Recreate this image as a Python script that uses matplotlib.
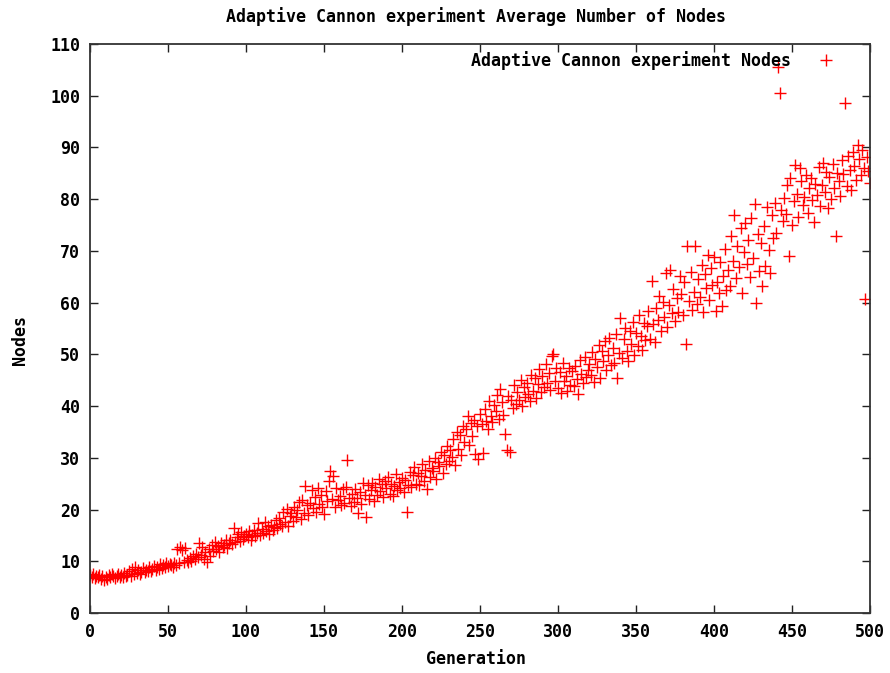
import matplotlib
matplotlib.use("Agg")
import matplotlib.pyplot as plt
import numpy as np

title = "Adaptive Cannon experiment Average Number of Nodes"
series_label = "Adaptive Cannon experiment Nodes"
x_label = "Generation"
y_label = "Nodes"
x_ticks = [0, 50, 100, 150, 200, 250, 300, 350, 400, 450, 500]
y_ticks = [0, 10, 20, 30, 40, 50, 60, 70, 80, 90, 100, 110]

nodes = [
    7.3, 7.0, 7.5, 6.8, 7.2, 6.9, 7.4, 6.5, 7.1, 6.3,
    7.0, 6.6, 7.3, 6.9, 7.5, 7.1, 6.8, 7.2, 7.6, 7.0,
    7.3, 6.9, 7.7, 7.1, 7.4, 8.2, 7.2, 8.6, 7.5, 8.9,
    7.8, 8.3, 7.6, 8.0, 8.7, 7.9, 8.4, 8.1, 8.8, 8.2,
    8.6, 9.1, 8.3, 8.9, 8.5, 9.4, 8.7, 9.2, 8.8, 9.6,
    9.0, 9.5, 9.2, 8.9, 9.7, 9.3, 12.4, 9.6, 12.8, 12.2,
    9.8, 12.5, 10.2, 9.9, 10.6, 10.1, 11.0, 10.4, 11.5, 10.8,
    13.6, 11.2, 12.8, 10.5, 11.8, 9.9, 12.3, 11.1, 13.2, 12.0,
    13.8, 12.4, 12.9, 11.8, 13.5, 12.7, 13.1, 14.2, 12.5, 13.6,
    14.1, 13.3, 16.5, 13.8, 14.7, 15.2, 13.9, 15.6, 14.4, 14.9,
    15.3, 14.6, 15.8, 14.2, 15.0, 16.1, 14.8, 15.5, 17.4, 15.1,
    16.3, 15.4, 17.6, 15.9, 16.8, 15.2, 17.1, 16.0, 16.6, 17.9,
    16.4, 18.3, 17.2, 16.8, 19.6, 17.5, 20.1, 16.9, 18.7, 19.3,
    17.8, 20.4, 18.6, 19.9, 21.5, 18.2, 21.9, 19.4, 24.6, 20.8,
    18.9, 21.2, 23.8, 20.3, 22.4, 19.6, 24.1, 21.0, 22.9, 20.5,
    19.2, 23.5, 21.6, 25.6, 27.4, 22.1, 26.5, 20.4, 24.2, 21.8,
    22.7, 20.9, 23.9, 21.3, 24.4, 29.6, 22.3, 20.6, 23.1, 21.5,
    24.0, 22.2, 19.3, 23.4, 21.0, 25.2, 22.8, 18.5, 24.7, 22.0,
    23.8, 25.1, 21.7, 24.3, 22.9, 26.0, 23.6, 24.9, 22.4, 25.5,
    24.2, 26.3, 23.0, 25.0, 22.6, 24.6, 26.8, 23.7, 25.3, 24.1,
    26.1, 23.4, 25.7, 19.6, 24.8, 27.2, 24.3, 26.6, 28.3, 25.0,
    27.0, 24.7, 26.4, 28.8, 25.6, 27.7, 23.9, 29.4, 26.2, 28.1,
    27.4, 30.0, 26.0, 29.2, 28.5, 31.1, 27.0, 30.6, 28.9, 32.3,
    29.3, 31.5, 30.2, 33.6, 28.7, 35.0, 31.8, 34.4, 30.6, 36.2,
    33.0, 35.5, 38.1, 32.4, 36.8, 34.3, 37.4, 30.8, 36.1, 29.7,
    38.4, 36.6, 30.9, 39.5, 37.2, 35.6, 41.0, 38.0, 36.9, 40.3,
    39.0, 42.2, 37.6, 43.4, 40.7, 38.3, 34.6, 31.6, 42.0, 31.2,
    41.2, 39.6, 44.0, 40.4, 42.8, 41.1, 45.1, 40.0, 43.6, 41.8,
    44.5, 42.3, 41.0, 46.0, 43.0, 45.4, 41.6, 44.2, 47.2, 42.7,
    45.8, 43.6, 48.1, 44.4, 46.4, 43.1, 49.7, 50.0, 44.9, 47.3,
    43.5, 46.5, 42.6, 48.4, 44.8, 45.9, 42.9, 47.4, 44.1, 46.8,
    43.8, 47.8, 45.3, 42.4, 48.9, 46.2, 44.5, 49.5, 45.7, 47.0,
    48.2, 46.0, 50.4, 44.7, 49.1, 47.6, 51.9, 45.4, 50.6, 48.7,
    52.6, 46.9, 49.9, 53.2, 47.9, 51.3, 48.4, 54.0, 45.5, 50.2,
    57.0, 49.3, 52.9, 55.1, 50.7, 48.8, 54.6, 52.1, 56.3, 49.8,
    54.2, 51.6, 57.7, 53.5, 50.9, 56.0, 52.7, 55.4, 58.4, 53.0,
    64.1, 55.8, 52.3, 58.9, 56.6, 61.2, 54.5, 60.1, 57.3, 65.7,
    55.2, 59.5, 66.4, 57.9, 62.6, 56.4, 60.8, 58.1, 65.2, 61.6,
    57.6, 63.9, 52.1, 71.0, 60.3, 66.0, 58.6, 62.0, 70.9, 59.8,
    64.5, 61.0, 67.3, 58.2, 65.5, 62.8, 69.2, 60.6, 66.7, 63.4,
    68.9, 58.4, 64.0, 61.9, 67.8, 59.3, 65.1, 70.3, 62.4, 66.3,
    63.3, 72.8, 68.0, 77.0, 64.7, 70.9, 66.8, 74.5, 61.8, 69.8,
    75.4, 67.5, 72.1, 64.9, 76.3, 68.6, 79.0, 60.0, 73.3, 66.1,
    71.6, 63.2, 74.8, 67.0, 78.4, 70.1, 65.7, 76.9, 72.4, 79.3,
    73.5, 105.5, 100.6, 78.0, 75.8, 80.2, 77.1, 82.8, 69.1, 84.0,
    75.0, 79.7, 86.6, 81.0, 76.6, 86.0, 83.5, 78.8, 80.5, 84.6,
    77.4, 82.2, 84.1, 79.9, 75.6, 83.0, 80.8, 86.2, 78.6, 82.7,
    87.0, 81.4, 85.3, 78.3, 84.3, 80.0, 86.8, 82.1, 72.9, 85.0,
    83.6, 80.6, 87.5, 84.9, 98.6, 82.5, 88.4, 85.6, 81.7, 89.2,
    86.4, 83.8, 90.4, 87.7, 84.7, 89.6, 86.0, 60.7, 88.1, 85.5,
    83.2,
]
generation = list(range(len(nodes)))

font = {"family": "DejaVu Sans Mono", "weight": "bold", "size": 12}

fig = plt.figure(figsize=(8.9, 6.73), dpi=100)
ax = fig.add_axes([90 / 890, 60 / 673, 780 / 890, 569 / 673])

ax.plot(generation, nodes, linestyle="none", marker="+", color="#ff0000",
        markersize=8, markeredgewidth=1.0, label=series_label)

ax.set_xlim(0, 500)
ax.set_ylim(0, 110)
ax.set_xticks(x_ticks)
ax.set_yticks(y_ticks)
ax.set_xticklabels([str(t) for t in x_ticks], fontdict=font)
ax.set_yticklabels([str(t) for t in y_ticks], fontdict=font)
ax.tick_params(direction="in", length=6, width=1, top=True, right=True,
               colors="#222222", pad=7)
for lbl in ax.get_xticklabels() + ax.get_yticklabels():
    lbl.set_color("black")
for s in ax.spines.values():
    s.set_linewidth(1.3)
    s.set_color("#333333")

fig.text(476 / 890, 1 - 17 / 673, title, ha="center", va="center", **font)
fig.text(476 / 890, 1 - 659 / 673, x_label, ha="center", va="center", **font)
fig.text(20 / 890, 1 - 340 / 673, y_label, ha="center", va="center",
         rotation=90, **font)

leg = ax.legend(loc="upper right", bbox_to_anchor=(0.9654, 0.988),
                frameon=False, markerfirst=False, borderaxespad=0,
                borderpad=0, handlelength=2, handletextpad=1.15,
                prop={"family": "DejaVu Sans Mono", "weight": "bold", "size": 12})

fig.savefig("out.png", dpi=100)
